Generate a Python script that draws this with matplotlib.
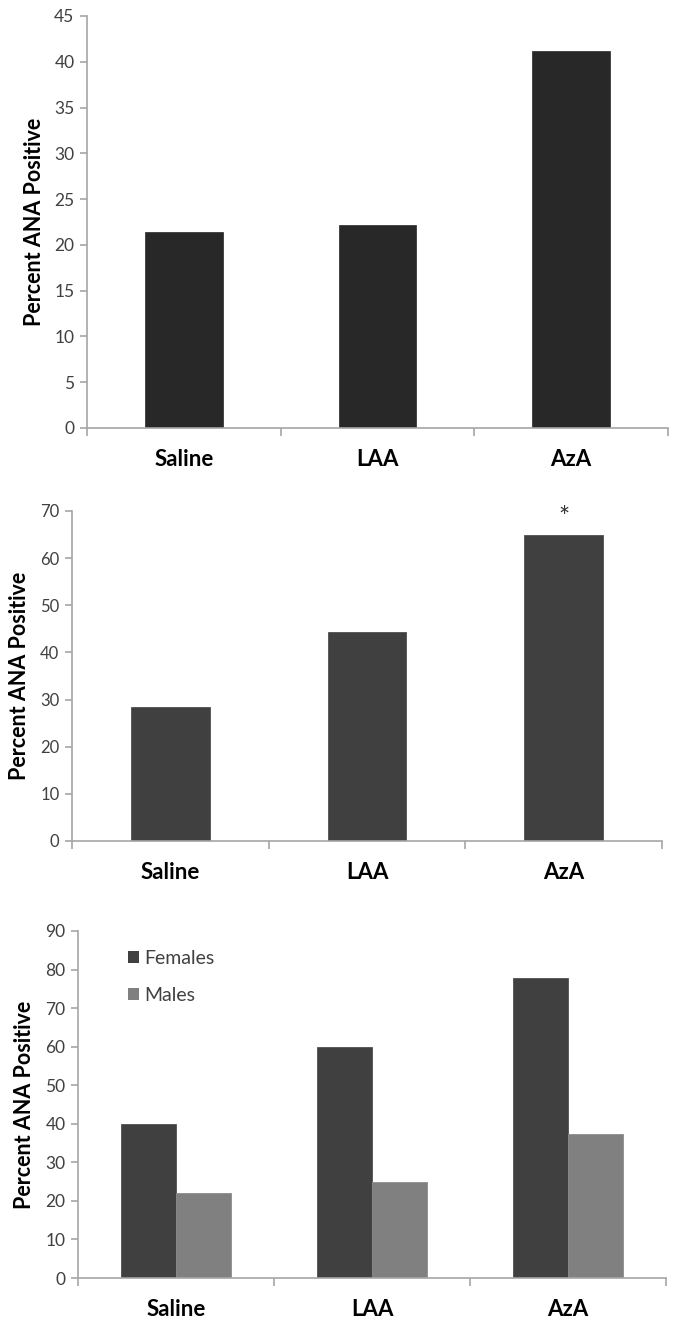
import matplotlib.pyplot as plt
import numpy as np
from matplotlib.patches import Patch

# ANA positivity by treatment group
groups = ["Saline", "LAA", "AzA"]
pct_all_a = [21.4, 22.2, 41.2]
pct_all_b = [28.5, 44.3, 65.0]
pct_females = [40.0, 60.0, 77.8]
pct_males = [22.0, 25.0, 37.4]
sig_marks = ["", "", "*"]

plt.rcParams['font.family'] = ['Lato', 'DejaVu Sans']

axis_grey = "#a6a6a6"
tick_grey = "#404040"


def style_axes(ax, ymax, ystep, tick_size):
    x = np.arange(len(groups))
    ax.set_xlim(-0.5, len(groups) - 0.5)
    ax.set_ylim(0, ymax)
    ax.set_yticks(np.arange(0, ymax + 1, ystep))
    ax.set_xticks(x)
    ax.set_xticklabels(groups, fontsize=16, fontweight='bold', color='black')
    ax.set_xticks(np.arange(-0.5, len(groups)), minor=True)
    ax.tick_params(axis='x', which='major', length=0, pad=15)
    ax.tick_params(axis='x', which='minor', length=6, width=1.2, color=axis_grey)
    ax.tick_params(axis='y', length=5, width=1.2, color=axis_grey,
                   labelsize=tick_size, labelcolor=tick_grey, pad=4)
    for side in ['top', 'right']:
        ax.spines[side].set_visible(False)
    for side in ['left', 'bottom']:
        ax.spines[side].set_color(axis_grey)
        ax.spines[side].set_linewidth(1.2)
    ax.set_ylabel("Percent ANA Positive", fontsize=15.5, fontweight='bold')


fig = plt.figure(figsize=(6.76, 13.2), dpi=100)

# top panel
ax1 = fig.add_axes([0.1287, 0.6758, 0.8595, 0.3121])
x = np.arange(len(groups))
ax1.bar(x, pct_all_a, width=0.4, color="#282828", edgecolor="#3a3a3a", linewidth=0.6)
style_axes(ax1, 45, 5, 12.5)
ax1.yaxis.set_label_coords(-0.072, 0.5)

# middle panel with significance mark
ax2 = fig.add_axes([0.1065, 0.3629, 0.8728, 0.25])
ax2.bar(x, pct_all_b, width=0.4, color="#404040", edgecolor="#505050", linewidth=0.6)
style_axes(ax2, 70, 10, 12)
ax2.yaxis.set_label_coords(-0.071, 0.5)
for xi, val, mark in zip(x, pct_all_b, sig_marks):
    if mark:
        ax2.text(xi, val + 3.5, mark, ha='center', va='center', fontsize=19,
                 color='#333333', clip_on=False)

# bottom panel split by sex
ax3 = fig.add_axes([0.1154, 0.0318, 0.8698, 0.2629])
w = 0.283
ax3.bar(x - w / 2, pct_females, width=w, color="#404040", edgecolor="#505050", linewidth=0.6)
ax3.bar(x + w / 2, pct_males, width=w, color="#808080", edgecolor="#8c8c8c", linewidth=0.6)
style_axes(ax3, 90, 10, 12.5)
ax3.yaxis.set_label_coords(-0.073, 0.5)
handles = [Patch(facecolor="#404040", label="Females"),
           Patch(facecolor="#808080", label="Males")]
ax3.legend(handles=handles, loc='upper left', bbox_to_anchor=(0.055, 0.995),
           frameon=False, fontsize=14, handlelength=0.55, handleheight=0.55,
           handletextpad=0.3, labelspacing=1.0, labelcolor=tick_grey)

fig.savefig("out.png", dpi=100)
